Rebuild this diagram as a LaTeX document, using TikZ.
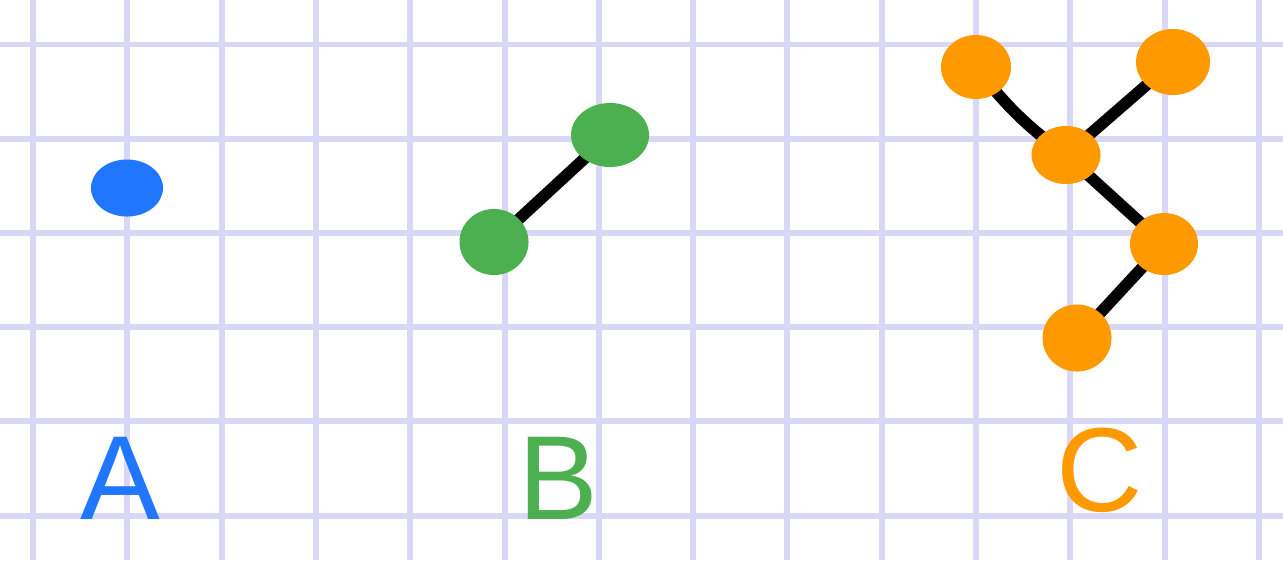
\documentclass[tikz,border=0pt]{standalone}
\usepackage{xcolor}
\usepackage{fontspec}
\setmainfont{Liberation Sans}
\usepackage{tikz}
\usetikzlibrary{shapes.geometric,backgrounds}
\definecolor{gpline}{RGB}{216,216,246}
\definecolor{gpblue}{RGB}{33,118,255}
\definecolor{gpgreen}{RGB}{76,175,80}
\definecolor{gporange}{RGB}{255,153,0}
\tikzset{
gpgrid/.style={draw=gpline,line width=1.7pt},
gpdot/.style={ellipse,inner sep=0pt,draw=none},
gpblob/.style={gpdot,fill=gpblue},
gpleaf/.style={gpdot,fill=gpgreen},
gpfruit/.style={gpdot,fill=gporange},
gplink/.style={draw=black,line width=3.3pt,line cap=round},
gpletter/.style={font=\fontsize{34}{40}\selectfont,inner sep=0pt}
}
\begin{document}
\begin{tikzpicture}[
x=0.01cm,
y=-0.01cm
]
\useasboundingbox (0,0) rectangle (1283,560);
\node[gpblob,minimum width=0.72cm,minimum height=0.57cm]
  (a1) at (127,188) {};
\node[gpleaf,minimum width=0.69cm,minimum height=0.66cm]
  (b1) at (494,242) {};
\node[gpleaf,minimum width=0.78cm,minimum height=0.64cm]
  (b2) at (610,135) {};
\node[gpfruit,minimum width=0.70cm,minimum height=0.64cm]
  (c1) at (976,67) {};
\node[gpfruit,minimum width=0.74cm,minimum height=0.66cm]
  (c2) at (1173,62) {};
\node[gpfruit,minimum width=0.69cm,minimum height=0.58cm]
  (c3) at (1066,155) {};
\node[gpfruit,minimum width=0.68cm,minimum height=0.62cm]
  (c4) at (1164,244) {};
\node[gpfruit,minimum width=0.69cm,minimum height=0.67cm]
  (c5) at (1077,338) {};
\node[gpletter,text=gpblue] (labA) at (120,478) {A};
\node[gpletter,text=gpgreen] (labB) at (558,478) {B};
\node[gpletter,text=gporange] (labC) at (1100,470) {C};
\begin{pgfonlayer}{background}
\fill[white] (0,0) rectangle (1283,560);
\foreach \gx in {0,...,13}
  \draw[gpgrid] ({33+94.3*\gx},0)--({33+94.3*\gx},560);
\foreach \gy in {0,...,5}
  \draw[gpgrid] (0,{44.5+94.2*\gy})--(1283,{44.5+94.2*\gy});
\draw[gplink] (b1.center)--(b2.center);
\draw[gplink] (c1.center) to[bend right=8] (c3.center);
\draw[gplink] (c2.center)--(c3.center);
\draw[gplink] (c3.center)--(c4.center);
\draw[gplink] (c4.center)--(c5.center);
\end{pgfonlayer}
\end{tikzpicture}
\end{document}
